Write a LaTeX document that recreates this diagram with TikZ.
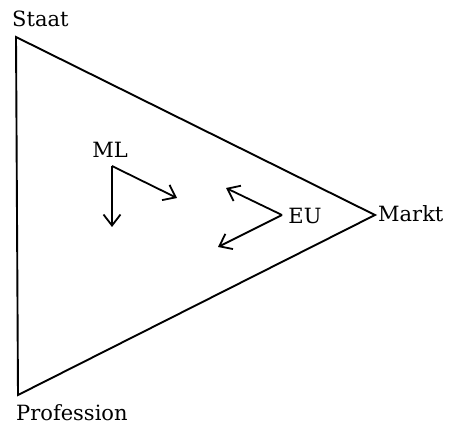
\documentclass[tikz,border=0pt]{standalone}
\usepackage{fontspec}
\setmainfont{DejaVu Serif}
\usetikzlibrary{arrows.meta}
\begin{document}
\begin{tikzpicture}[
			x=1pt, y=-1pt,
			edge/.style={line width=1.9pt, line join=miter},
			arr/.style={line width=1.8pt, -{Straight Barb[length=11pt, width=17pt, line width=1.8pt]}},
			lbl/.style={inner sep=0pt, font=\fontsize{21}{21}\selectfont},
			]
			\useasboundingbox (0,0) rectangle (451,425);

			% --- Corners of the triangle ---
			\coordinate (staat) at (16,37);
			\coordinate (profession) at (18,395);
			\coordinate (markt) at (375,215);

			% Labels for corners
			\node[lbl, anchor=base west] (staatlbl) at (12,27) {Staat};
			\node[lbl, anchor=base west] (professionlbl) at (16,421) {Profession};
			\node[lbl, anchor=base west] (marktlbl) at (378,222) {Markt};

			\draw[edge] (staat) -- (markt) -- (profession) -- cycle;

			% --- ML and its two arrows ---
			\node[lbl] (ml) at (110,150) {ML};
			\coordinate (mlc) at (112,166);
			\coordinate (mld) at (112,227);
			\coordinate (mlr) at (177,198);
			\draw[arr] (mlc) -- (mld);
			\draw[arr] (mlc) -- (mlr);

			% --- EU and its two arrows ---
			\node[lbl] (eu) at (305,216) {EU};
			\coordinate (euc) at (282,215);
			\coordinate (euu) at (226,188);
			\coordinate (eud) at (218,247);
			\draw[arr] (euc) -- (euu);
			\draw[arr] (euc) -- (eud);

		\end{tikzpicture}
\end{document}
